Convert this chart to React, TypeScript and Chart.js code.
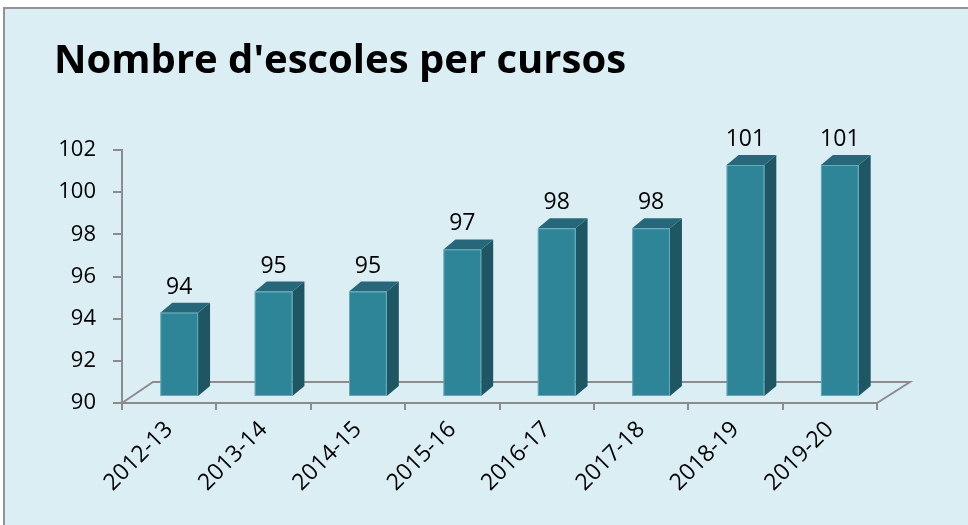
import React, { useEffect, useRef } from "react";
import { Chart, registerables } from "chart.js";

Chart.register(...registerables);

// ---- data ----
const categories = ["2012-13", "2013-14", "2014-15", "2015-16", "2016-17", "2017-18", "2018-19", "2019-20"];
const schoolCounts = [94, 95, 95, 97, 98, 98, 101, 101];
const yTickValues = [90, 92, 94, 96, 98, 100, 102];
const yMin = 90;
const yMax = 102;
const titleText = "Nombre d'escoles per cursos";

// ---- styles ----
const FONT = "'Open Sans', 'Noto Sans', sans-serif";
const AXIS = "#8c8c8c";
const FRONT = "#2e8598";
const SIDE = "#1f5663";
const TOP = "#26687a";
const EDGE = "rgba(140,200,215,0.55)";
const SHIFT_X = 10;
const SHIFT_Y = -6;
const DEPTH_X = 12;
const DEPTH_Y = 10;

const bar3dPlugin = {
  id: "bar3d",
  beforeDatasetsDraw(chart: any) {
    const { ctx, chartArea } = chart;
    const { left, right, bottom } = chartArea;
    ctx.save();
    ctx.strokeStyle = AXIS;
    ctx.lineWidth = 2;
    ctx.beginPath();
    ctx.moveTo(left, bottom);
    ctx.lineTo(left + 31, bottom - 21);
    ctx.lineTo(right + 33, bottom - 21);
    ctx.lineTo(right, bottom);
    ctx.stroke();
    ctx.restore();
  },
  afterDatasetsDraw(chart: any) {
    const { ctx, chartArea } = chart;
    const meta = chart.getDatasetMeta(0);
    ctx.save();
    meta.data.forEach((el: any, i: number) => {
      const { x, y, base, width } = el.getProps(["x", "y", "base", "width"], true);
      const x0 = x - width / 2 + SHIFT_X;
      const x1 = x + width / 2 + SHIFT_X;
      const top = y + SHIFT_Y;
      const bot = Math.min(base, chartArea.bottom) + SHIFT_Y;
      // side
      ctx.fillStyle = SIDE;
      ctx.beginPath();
      ctx.moveTo(x1, top);
      ctx.lineTo(x1 + DEPTH_X, top - DEPTH_Y);
      ctx.lineTo(x1 + DEPTH_X, bot - DEPTH_Y);
      ctx.lineTo(x1, bot);
      ctx.closePath();
      ctx.fill();
      // top
      ctx.fillStyle = TOP;
      ctx.beginPath();
      ctx.moveTo(x0, top);
      ctx.lineTo(x0 + DEPTH_X, top - DEPTH_Y);
      ctx.lineTo(x1 + DEPTH_X, top - DEPTH_Y);
      ctx.lineTo(x1, top);
      ctx.closePath();
      ctx.fill();
      // front
      ctx.fillStyle = FRONT;
      ctx.fillRect(x0, top, x1 - x0, bot - top);
      ctx.strokeStyle = EDGE;
      ctx.lineWidth = 1;
      ctx.strokeRect(x0 + 0.5, top + 0.5, x1 - x0 - 1, bot - top - 1);
      // label
      ctx.fillStyle = "#000";
      ctx.font = `23px ${FONT}`;
      ctx.textAlign = "center";
      ctx.textBaseline = "alphabetic";
      ctx.fillText(String(schoolCounts[i]), (x0 + x1) / 2, top - 19);
    });
    ctx.restore();
  },
  afterDraw(chart: any) {
    const { ctx } = chart;
    ctx.save();
    ctx.fillStyle = "#000";
    ctx.font = `bold 40px ${FONT}`;
    ctx.textAlign = "left";
    ctx.textBaseline = "alphabetic";
    ctx.fillText(titleText, 54, 73);
    ctx.restore();
  },
};

export default function App() {
  const ref = useRef<HTMLCanvasElement>(null);

  useEffect(() => {
    if (!ref.current) return;
    const chart = new Chart(ref.current, {
      type: "bar",
      data: {
        labels: categories,
        datasets: [
          {
            data: schoolCounts,
            base: yMin,
            backgroundColor: "rgba(0,0,0,0)",
            borderWidth: 0,
            barPercentage: 0.4,
            categoryPercentage: 1,
          } as any,
        ],
      },
      options: {
        responsive: false,
        animation: false,
        layout: { padding: { left: 0, right: 91, top: 150, bottom: 0 } },
        plugins: {
          legend: { display: false },
          title: { display: false },
          tooltip: { enabled: false },
        },
        scales: {
          x: {
            afterFit: (s: any) => {
              s.height = 122;
            },
            grid: {
              offset: true,
              drawOnChartArea: false,
              drawTicks: true,
              tickLength: 7,
              color: AXIS,
              lineWidth: 2,
            },
            border: { color: AXIS, width: 2 },
            ticks: {
              minRotation: 45,
              maxRotation: 45,
              color: "#000",
              font: { family: FONT, size: 23 },
              padding: 6,
            },
          },
          y: {
            min: yMin,
            max: yMax,
            afterFit: (s: any) => {
              s.width = 122;
            },
            afterBuildTicks: (s: any) => {
              s.ticks = yTickValues.map((v) => ({ value: v }));
            },
            grid: {
              drawOnChartArea: false,
              drawTicks: true,
              tickLength: 9,
              color: AXIS,
              lineWidth: 2,
            },
            border: { color: AXIS, width: 2 },
            ticks: {
              color: "#000",
              font: { family: FONT, size: 22 },
              padding: 17,
            },
          },
        },
      },
      plugins: [bar3dPlugin],
    });
    return () => chart.destroy();
  }, []);

  return (
    <div style={{ position: "absolute", left: 0, top: 0, width: 968, height: 525, overflow: "hidden" }}>
      <div
        style={{
          position: "absolute",
          left: 3,
          top: 7,
          width: 1000,
          height: 600,
          background: "#dbeef4",
          border: "2px solid #939393",
          boxSizing: "border-box",
        }}
      />
      <canvas ref={ref} width={968} height={525} style={{ position: "absolute", left: 0, top: 0 }} />
    </div>
  );
}
